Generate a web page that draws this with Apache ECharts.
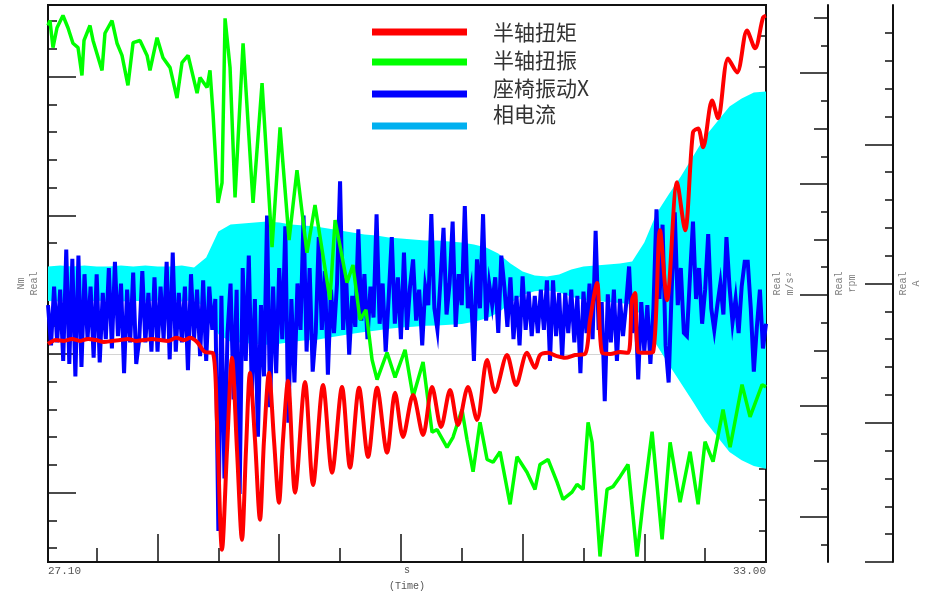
<!DOCTYPE html>
<html>
<head>
<meta charset="utf-8">
<script src="https://cdn.jsdelivr.net/npm/echarts@6/dist/echarts.min.js"></script>
<style>
  html, body { margin: 0; padding: 0; background: #fff; }
  #chart { width: 930px; height: 600px; }
</style>
</head>
<body>
<div id="chart"></div>
<script>
// ---- Series names and colours ----
const seriesNames = ['半轴扭矩', '半轴扭振', '座椅振动X', '相电流'];
const seriesColors = ['#ff0000', '#00ff00', '#0000ff', '#00b0f0'];

// ---- Time range (s) ----
const timeMin = 27.10;
const timeMax = 33.00;
const timeLabels = [27.10, 33.00];
const halfSecondTicks = [27.5, 28.5, 29.5, 30.5, 31.5, 32.5];
const wholeSecondTicks = [28, 29, 30, 31, 32];

// ---- Half-shaft torque (Nm) ----
const redTime = [27.100, 27.166, 27.231, 27.297, 27.363, 27.429, 27.494, 27.560, 27.626, 27.692,
  27.757, 27.823, 27.889, 27.955, 28.020, 28.086, 28.152, 28.218, 28.267, 28.325,
  28.390, 28.455, 28.488, 28.530, 28.571, 28.612, 28.653, 28.694, 28.727, 28.760,
  28.801, 28.842, 28.875, 28.916, 28.957, 28.998, 29.031, 29.072, 29.130, 29.212,
  29.278, 29.360, 29.434, 29.516, 29.582, 29.656, 29.730, 29.804, 29.886, 29.952,
  30.017, 30.100, 30.182, 30.256, 30.330, 30.404, 30.469, 30.551, 30.625, 30.708,
  30.773, 30.872, 30.946, 31.036, 31.102, 31.143, 31.209, 31.275, 31.349, 31.431,
  31.513, 31.554, 31.612, 31.653, 31.719, 31.801, 31.867, 31.899, 31.924, 31.949,
  32.006, 32.072, 32.129, 32.187, 32.269, 32.335, 32.400, 32.442, 32.483, 32.557,
  32.606, 32.688, 32.762, 32.844, 32.910, 32.976, 33.000];
const redNm = [36, 50, 47, 54, 47, 54, 50, 43, 47, 50,
  54, 47, 50, 54, 50, 47, 58, 50, 58, 43,
  7, 4, -238, -706, -346, -14, -346, -670, -346, -68,
  -310, -598, -310, -68, -310, -536, -310, -97, -500, -101,
  -472, -112, -428, -119, -410, -122, -371, -122, -356, -140,
  -299, -148, -292, -119, -263, -130, -256, -119, -238, -22,
  -137, -4, -112, 4, -50, -4, 4, -7, -14, -4,
  0, 122, 256, 4, 0, 7, 4, 194, 220, 7,
  4, 7, 446, 194, 619, 446, 799, 813, 745, 914,
  850, 1065, 1015, 1166, 1102, 1213, 1220];

// ---- Half-shaft torsional vibration (rpm) ----
const greenTime = [27.100, 27.116, 27.141, 27.174, 27.223, 27.264, 27.305, 27.347, 27.379, 27.396,
  27.445, 27.470, 27.544, 27.568, 27.626, 27.667, 27.708, 27.757, 27.799, 27.856,
  27.914, 27.938, 27.996, 28.045, 28.103, 28.160, 28.201, 28.251, 28.325, 28.349,
  28.407, 28.431, 28.456, 28.497, 28.530, 28.555, 28.596, 28.637, 28.703, 28.785,
  28.859, 28.941, 29.007, 29.081, 29.146, 29.228, 29.294, 29.417, 29.459, 29.557,
  29.606, 29.664, 29.713, 29.763, 29.804, 29.886, 29.952, 30.034, 30.100, 30.182,
  30.256, 30.297, 30.379, 30.428, 30.502, 30.543, 30.593, 30.650, 30.708, 30.757,
  30.815, 30.897, 30.954, 31.036, 31.102, 31.143, 31.209, 31.283, 31.332, 31.406,
  31.447, 31.497, 31.538, 31.571, 31.636, 31.694, 31.743, 31.801, 31.866, 31.940,
  31.990, 32.064, 32.146, 32.212, 32.294, 32.376, 32.442, 32.499, 32.565, 32.647,
  32.705, 32.803, 32.869, 32.968, 33.000];
const greenRpm = [48.6, 49.5, 44.6, 48.2, 50.4, 48.2, 45.4, 44.6, 39.6, 45.9,
  48.6, 45.9, 40.5, 47.2, 49.5, 45.4, 43.2, 37.8, 45.5, 45.9,
  43.2, 40.5, 46.4, 42.8, 41.0, 35.5, 41.9, 43.2, 36.4, 39.2,
  37.4, 40.5, 32.8, 16.6, 20.2, 49.9, 41.0, 17.6, 45.4, 16.6,
  38.2, 8.6, 30.2, 9.9, 22.5, 7.6, 16.2, -0.9, 13.5, 2.2,
  5.4, -4.5, -2.7, -11.7, -15.3, -10.4, -14.9, -9.9, -18.4, -12.1,
  -24.8, -24.3, -27.5, -25.7, -20.7, -26.1, -31.9, -23.0, -29.7, -30.2,
  -28.3, -37.8, -29.2, -32.0, -35.1, -30.6, -29.7, -33.8, -36.9, -35.6,
  -34.2, -35.1, -23.0, -26.6, -47.2, -35.1, -34.6, -32.8, -30.6, -47.2,
  -37.4, -24.7, -44.1, -26.6, -37.4, -28.3, -37.8, -26.5, -30.1, -20.7,
  -27.5, -16.2, -22.0, -16.2, -16.6];

// ---- Seat vibration X (m/s^2), sampled every 25 ms from 27.10 s ----
const blueStart = 27.10;
const blueStep = 0.025;
const blueAcc = [
  0.3, -1.0, 0.9, -0.9, 0.8, -1.5, 2.1, -1.6, 1.8, -2.0,
  1.9, -1.7, 1.3, -0.8, 0.9, -1.4, 1.3, -1.55, 0.7, -0.8,
  1.5, -1.1, 1.7, -0.7, 1.0, -1.9, 0.8, -0.9, 1.35, -1.6,
  -0.8, 1.4, -0.9, 0.7, -1.2, 1.2, -1.2, 0.9, -0.8, 1.7,
  -1.45, 2.0, -1.2, 0.7, -0.9, 0.9, -1.8, 1.3, -0.8, 0.8,
  -1.35, 1.1, -1.5, 0.9, -0.5, 0.5, -7.0, 0.6, -5.3, -0.6,
  1.0, -2.75, 0.8, -5.8, 1.5, -1.5, 1.9, -2.5, 0.5, -3.95,
  0.3, -2.0, 3.2, -3.0, 0.9, -1.9, 1.5, -0.8, 2.85, -3.5,
  0.5, -2.2, 1.0, -0.5, 3.2, -1.2, 1.5, -1.85, -0.6, 2.5,
  -0.5, 1.4, -1.95, 0.8, -0.6, 1.0, 4.3, -0.5, 1.2, -1.3,
  0.6, -0.4, 2.75, -0.2, 1.3, -0.8, 0.9, -0.1, 3.24, -0.3,
  1.0, -1.2, 0.6, 2.5, -0.3, 1.2, -0.8, 2.0, -0.5, 0.9,
  1.78, -0.2, 0.8, -1.0, 0.9, 0.3, 3.24, 0.2, -0.5, 1.1,
  2.8, 0.0, 1.0, 3.0, -0.4, 1.3, 0.3, 3.5, 0.2, 0.8,
  -1.5, 1.78, 0.2, 3.24, -0.2, 1.0, 0.3, 1.2, -0.6, 1.9,
  0.9, -0.4, 1.2, -0.8, 0.6, -1.0, 1.23, -0.5, 0.74, -0.7,
  0.6, -0.6, 0.8, -0.5, 1.1, -1.5, 1.1, -0.7, 0.7, -1.4,
  0.7, -0.6, 0.8, -0.9, 0.6, -1.9, 0.74, -0.6, 1.0, -0.8,
  2.7, -0.5, 0.4, -2.8, 0.65, -0.9, 0.8, -1.5, 0.5, -0.7,
  0.3, 1.55, -0.6, 0.5, -2.1, 0.4, -1.2, 0.3, -1.6, 0.2,
  3.4, 0.5, 2.9, -1.0, -2.2, 0.8, 3.3, 0.3, 1.5, -0.6,
  -0.7, 1.2, 3.0, 0.5, 1.5, -0.3, 0.8, 2.6, 0.2, -0.5,
  0.3, 1.0, 0.0, 2.5, 0.9, -0.26, 0.5, -0.6, 0.9, 1.7,
  1.7, 0.2, -1.85, -0.4, 0.8, -1.1, -0.3];

// ---- Phase current envelope (A), every 0.1 s from 27.10 s ----
const ampStart = 27.10;
const ampStep = 0.1;
const ampUpper = [12.2, 12.9, 12.2, 12.9, 12.2, 12.2, 12.9, 12.2, 12.9, 12.2,
  12.2, 12.9, 11.5, 18.7, 37.3, 42.4, 43.1, 43.8, 44.5, 43.8,
  42.4, 41.6, 40.9, 39.5, 38.1, 36.6, 35.2, 34.5, 33.0, 32.3,
  31.6, 30.9, 30.9, 30.2, 29.4, 28.0, 25.8, 21.5, 14.4, 8.6,
  5.7, 5.0, 6.5, 10.1, 12.2, 12.9, 13.6, 14.4, 15.8, 29.4,
  50.3, 63.9, 76.8, 91.2, 105.5, 116.3, 127.1, 132.8, 137.1, 137.9];
const ampLower = [-12.5, -12.9, -12.2, -13.0, -12.5, -12.2, -12.9, -12.4, -12.9, -12.2,
  -12.5, -12.9, -11.8, -18.0, -36.5, -41.8, -42.6, -43.5, -44.0, -43.2,
  -42.0, -41.0, -40.5, -39.0, -37.6, -36.0, -34.8, -33.8, -32.5, -31.6,
  -31.0, -30.4, -30.2, -29.6, -29.0, -27.5, -25.2, -21.0, -14.0, -8.2,
  -5.5, -4.8, -6.2, -9.6, -11.8, -12.5, -13.2, -14.0, -15.0, -26.0,
  -44.0, -58.0, -71.5, -85.0, -99.0, -110.0, -121.0, -127.0, -131.0, -133.0];

// ---- Axis ranges and tick values ----
const nmRange = [-750, 1258];
const nmMinorTicks = [-700, -600, -400, -300, -200, -100, 100, 200, 300, 400, 600, 700, 800, 900, 1100, 1200];
const nmMajorTicks = [-500, 0, 500, 1000];
const accRange = [-8, 10];
const accShortTicks = [-7, -6, -5, -4, -3, -2, -1, 1, 2, 3, 4, 6, 7, 8, 9];
const accMidTicks = [5];
const accLongTicks = [0];
const rpmRange = [-48.2, 52.3];
const rpmShortTicks = [-45, -35, -25, -15, -5, 5, 15, 25, 35, 45];
const rpmMidTicks = [-30, -10, 10, 30, 50];
const rpmLongTicks = [-40, -20, 0, 20, 40];
const ampRange = [-200, 200];
const ampShortTicks = [-180, -160, -140, -120, -80, -60, -40, -20, 20, 40, 60, 80, 120, 140, 160, 180];
const ampLongTicks = [-200, -100, 0, 100];

// ---- Build series data ----
const redData = redTime.map((t, i) => [t, redNm[i]]);
const greenData = greenTime.map((t, i) => [t, greenRpm[i]]);
const blueData = blueAcc.map((v, i) => [+(blueStart + i * blueStep).toFixed(3), v]);
const ampTime = ampUpper.map((_, i) => +(ampStart + i * ampStep).toFixed(2));

const INK = '#111';
const monoFont = 'Liberation Mono';
const nameStyle = { fontFamily: monoFont, fontSize: 10, color: '#808080', lineHeight: 13 };

function yAxisDef(o) {
  return Object.assign({
    type: 'value',
    gridIndex: 0,
    axisLine: { show: false, onZero: false },
    axisLabel: { show: false },
    splitLine: { show: false },
    nameMoveOverlap: false
  }, o);
}
function ticks(values, len) {
  return { show: true, inside: true, length: len, customValues: values, lineStyle: { color: INK, width: 1.5 } };
}
const axisLineOn = { show: true, onZero: false, lineStyle: { color: INK, width: 2 } };

const yAxes = [
  // 0: torque axis with short ticks (red series)
  yAxisDef({ position: 'left', min: nmRange[0], max: nmRange[1], axisLine: axisLineOn,
    axisTick: ticks(nmMinorTicks, 9),
    name: 'Nm\nReal', nameLocation: 'middle', nameRotate: 90, nameGap: 7, nameTextStyle: nameStyle }),
  // 1: torque long ticks
  yAxisDef({ position: 'left', min: nmRange[0], max: nmRange[1], axisTick: ticks(nmMajorTicks, 28) }),
  // 2: torque zero reference line
  yAxisDef({ position: 'left', min: nmRange[0], max: nmRange[1],
    axisTick: { show: false, customValues: [0] },
    splitLine: { show: true, lineStyle: { color: '#d4d4d4', width: 1 } } }),
  // 3: acceleration axis (blue series)
  yAxisDef({ position: 'right', offset: 0, min: accRange[0], max: accRange[1], axisLine: axisLineOn,
    axisTick: ticks(accShortTicks, 7),
    name: 'Real\nm/s²', nameLocation: 'middle', nameRotate: 90, nameGap: 5, nameTextStyle: nameStyle }),
  yAxisDef({ position: 'right', offset: 0, min: accRange[0], max: accRange[1], axisTick: ticks(accMidTicks, 14) }),
  yAxisDef({ position: 'right', offset: 0, min: accRange[0], max: accRange[1], axisTick: ticks(accLongTicks, 28) }),
  // 6: speed axis (green series)
  yAxisDef({ position: 'right', offset: 62, min: rpmRange[0], max: rpmRange[1], axisLine: axisLineOn,
    axisTick: ticks(rpmShortTicks, 7),
    name: 'Real\nrpm', nameLocation: 'middle', nameRotate: 90, nameGap: 5, nameTextStyle: nameStyle }),
  yAxisDef({ position: 'right', offset: 62, min: rpmRange[0], max: rpmRange[1], axisTick: ticks(rpmMidTicks, 14) }),
  yAxisDef({ position: 'right', offset: 62, min: rpmRange[0], max: rpmRange[1], axisTick: ticks(rpmLongTicks, 28) }),
  // 9: current axis (cyan band)
  yAxisDef({ position: 'right', offset: 127, min: ampRange[0], max: ampRange[1], axisLine: axisLineOn,
    axisTick: ticks(ampShortTicks, 8),
    name: 'Real\nA', nameLocation: 'middle', nameRotate: 90, nameGap: 4, nameTextStyle: nameStyle }),
  yAxisDef({ position: 'right', offset: 127, min: ampRange[0], max: ampRange[1], axisTick: ticks(ampLongTicks, 28) })
];

const xAxes = [
  {
    type: 'value', gridIndex: 0, position: 'bottom', min: timeMin, max: timeMax,
    axisLine: axisLineOn,
    axisTick: ticks(halfSecondTicks, 14),
    axisLabel: {
      customValues: timeLabels, formatter: v => v.toFixed(2), margin: 4,
      fontFamily: monoFont, fontSize: 11, color: '#555',
      alignMinLabel: 'left', alignMaxLabel: 'right'
    },
    splitLine: { show: false },
    name: 's\n(Time)', nameLocation: 'middle', nameGap: 0, nameMoveOverlap: false,
    nameTextStyle: { fontFamily: monoFont, fontSize: 10, color: '#555', lineHeight: 16, verticalAlign: 'top' }
  },
  {
    type: 'value', gridIndex: 0, position: 'bottom', min: timeMin, max: timeMax,
    axisLine: { show: false, onZero: false },
    axisTick: ticks(wholeSecondTicks, 28),
    axisLabel: { show: false },
    splitLine: { show: false }
  }
];

// Legend drawn as line swatches with labels beside them
const legendGraphics = [];
const swatchY = [32, 62, 94, 126];
const labelY = [32, 60, 88, 114];
seriesNames.forEach((name, i) => {
  legendGraphics.push({
    type: 'rect', x: 372, y: swatchY[i] - 3.5, shape: { width: 95, height: 7 },
    style: { fill: seriesColors[i] }, z: 10
  });
  legendGraphics.push({
    type: 'text', x: 493, y: labelY[i],
    style: { text: name, font: '21px "Noto Sans CJK SC"', fill: '#333', verticalAlign: 'middle' }, z: 10
  });
});

const chart = echarts.init(document.getElementById('chart'), null, { renderer: 'canvas' });
chart.setOption({
  animation: false,
  backgroundColor: '#fff',
  grid: { left: 48, right: 164, top: 5, bottom: 38, show: true, borderColor: INK, borderWidth: 2,
    backgroundColor: 'transparent', containLabel: false, outerBoundsMode: 'none' },
  xAxis: xAxes,
  yAxis: yAxes,
  graphic: legendGraphics,
  series: [
    {
      name: seriesNames[3], type: 'custom', xAxisIndex: 0, yAxisIndex: 9, z: 1, silent: true,
      data: [[ampStart, 0]],
      renderItem: (params, api) => {
        const upper = ampTime.map((t, i) => api.coord([t, ampUpper[i]]));
        const lower = ampTime.map((t, i) => api.coord([t, ampLower[i]])).reverse();
        return { type: 'polygon', shape: { points: upper.concat(lower) }, style: { fill: '#00ffff' } };
      }
    },
    {
      name: seriesNames[2], type: 'line', xAxisIndex: 0, yAxisIndex: 3, z: 2,
      data: blueData, symbol: 'none', silent: true,
      lineStyle: { color: '#0000ff', width: 4, join: 'miter' }
    },
    {
      name: seriesNames[1], type: 'line', xAxisIndex: 0, yAxisIndex: 6, z: 3,
      data: greenData, symbol: 'none', silent: true,
      lineStyle: { color: '#00ff00', width: 3.5 }
    },
    {
      name: seriesNames[0], type: 'line', xAxisIndex: 0, yAxisIndex: 0, z: 4,
      data: redData, symbol: 'none', silent: true, smooth: 0.3,
      lineStyle: { color: '#ff0000', width: 4 }
    }
  ]
});
</script>
</body>
</html>
